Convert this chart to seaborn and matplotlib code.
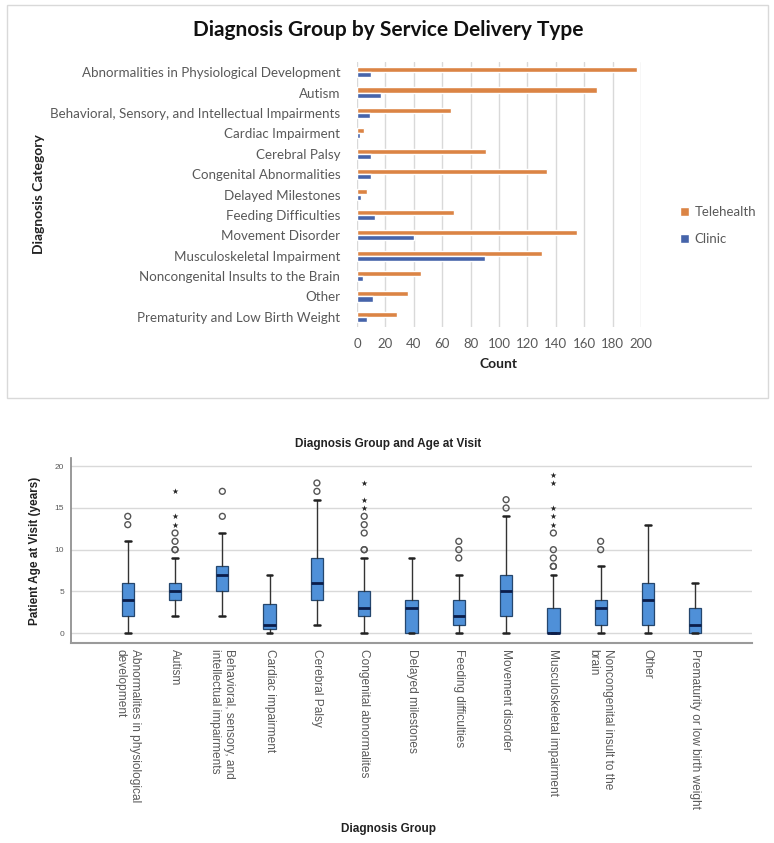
import matplotlib
matplotlib.use("Agg")
import matplotlib.pyplot as plt
from matplotlib.patches import Rectangle
import seaborn as sns
import pandas as pd

# ---- top chart data: counts by diagnosis category and service delivery type
categories = [
    "Abnormalities in Physiological Development",
    "Autism",
    "Behavioral, Sensory, and Intellectual Impairments",
    "Cardiac Impairment",
    "Cerebral Palsy",
    "Congenital Abnormalities",
    "Delayed Milestones",
    "Feeding Difficulties",
    "Movement Disorder",
    "Musculoskeletal Impairment",
    "Noncongenital Insults to the Brain",
    "Other",
    "Prematurity and Low Birth Weight",
]
telehealth = [197, 169, 66, 5, 91, 134, 7, 68, 155, 130, 45, 36, 28]
clinic = [10, 17, 9, 2, 10, 10, 3, 13, 40, 90, 4, 11, 7]
count_ticks = [0, 20, 40, 60, 80, 100, 120, 140, 160, 180, 200]

# ---- bottom chart data: age at visit box summaries
group_labels = [
    "Abnormalites in physiological\ndevelopment",
    "Autism",
    "Behavioral, sensory, and\nintellectual impairments",
    "Cardiac impairment",
    "Cerebral Palsy",
    "Congenital abnormalites",
    "Delayed milestones",
    "Feeding difficulties",
    "Movement disorder",
    "Musculoskeletal impairment",
    "Noncongenital insult to the\nbrain",
    "Other",
    "Prematurity or low birth weight",
]
q1 = [2, 4, 5, 0.5, 4, 2, 0, 1, 2, 0, 1, 1, 0]
median = [4, 5, 7, 1, 6, 3, 3, 2, 5, 0, 3, 4, 1]
q3 = [6, 6, 8, 3.5, 9, 5, 4, 4, 7, 3, 4, 6, 3]
whisker_low = [0, 2, 2, 0, 1, 0, 0, 0, 0, 0, 0, 0, 0]
whisker_high = [11, 9, 12, 7, 16, 9, 9, 7, 14, 7, 8, 13, 6]
circle_outliers = [
    [13, 14], [10, 10, 11, 12], [14, 17], [], [17, 18],
    [10, 10, 12, 13, 14], [], [9, 10, 11], [15, 16],
    [8, 8, 9, 10, 12], [10, 11], [], [],
]
star_outliers = [
    [], [13, 14, 17], [], [], [], [15, 16, 18], [], [], [],
    [13, 14, 15, 18, 19], [], [], [],
]
age_ticks = [0, 5, 10, 15, 20]

orange = "#DB8445"
blue = "#4664AA"
grey_text = "#595959"
arial = ["Liberation Sans", "DejaVu Sans"]

sns.set_theme(style="white")
plt.rcParams["font.family"] = ["Lato", "DejaVu Sans"]

fig = plt.figure(figsize=(7.74, 8.43), dpi=100)
W, H = 774, 843


def box(l, t, r, b):
    return [l / W, 1 - b / H, (r - l) / W, (b - t) / H]


# panel frame for the top chart
fig.add_artist(Rectangle((7 / W, 1 - 398 / H), (768 - 7) / W, (398 - 5) / H,
                         transform=fig.transFigure, fill=False,
                         ec="#D9D9D9", lw=1))

# ================= top: grouped horizontal bars =================
df = pd.DataFrame({
    "Diagnosis": categories * 2,
    "Count": telehealth + clinic,
    "Service": ["Telehealth"] * len(categories) + ["Clinic"] * len(categories),
})

ax1 = fig.add_axes(box(357, 62, 641, 327))
sns.barplot(data=df, y="Diagnosis", x="Count", hue="Service",
            hue_order=["Telehealth", "Clinic"], palette=[orange, blue],
            orient="h", width=0.5, saturation=1, ax=ax1)
ax1.set_xlim(0, 200)
ax1.set_xticks(count_ticks)
ax1.grid(axis="x", color="#D9D9D9", lw=1)
ax1.set_axisbelow(True)
for s in ax1.spines.values():
    s.set_visible(False)
ax1.tick_params(axis="y", length=0, pad=12, labelsize=9.6, labelcolor=grey_text)
ax1.tick_params(axis="x", length=0, pad=8, labelsize=9.5, labelcolor=grey_text)
ax1.set_ylabel("Diagnosis Category", fontsize=10, weight="bold", color="#222222")
ax1.yaxis.set_label_coords((45 - 357) / 284, 0.5)
ax1.set_xlabel("Count", fontsize=10, weight="bold", color="#222222", labelpad=6)

handles, labels = ax1.get_legend_handles_labels()
ax1.legend(handles, labels, loc="upper left", bbox_to_anchor=(1.095, 0.5),
           frameon=False, handlelength=0.7, handleheight=0.7,
           handletextpad=0.4, labelspacing=1.1, fontsize=9.5,
           labelcolor=grey_text)

fig.text(388 / W, 1 - 30 / H, "Diagnosis Group by Service Delivery Type",
         ha="center", va="center", fontsize=15, weight="bold", color="#111111")

# ================= bottom: box plot of age =================
ax2 = fig.add_axes(box(71, 458, 752, 643))
stats = []
for i in range(len(group_labels)):
    stats.append({"med": median[i], "q1": q1[i], "q3": q3[i],
                  "whislo": whisker_low[i], "whishi": whisker_high[i],
                  "fliers": []})
ax2.bxp(stats, positions=range(len(group_labels)), widths=0.26,
        capwidths=0.12, patch_artist=True, showfliers=False,
        boxprops=dict(facecolor="#4F90D8", edgecolor="#25476E", lw=0.9),
        medianprops=dict(color="#0B1D4A", lw=2),
        whiskerprops=dict(color="#333333", lw=1),
        capprops=dict(color="#222222", lw=1.8))

for i, vals in enumerate(circle_outliers):
    if vals:
        ax2.scatter([i] * len(vals), vals, marker="o", s=18,
                    facecolors="none", edgecolors="#555555", lw=1, zorder=3)
for i, vals in enumerate(star_outliers):
    if vals:
        ax2.scatter([i] * len(vals), vals, marker="*", s=20,
                    color="#222222", lw=0, zorder=3)

ax2.set_xlim(-1.2, 13.2)
ax2.set_ylim(-1.2, 21)
ax2.set_yticks(age_ticks)
ax2.grid(axis="y", color="#D9D9D9", lw=1)
ax2.set_axisbelow(True)
ax2.spines["top"].set_visible(False)
ax2.spines["right"].set_visible(False)
ax2.spines["left"].set_color("#8C8C8C")
ax2.spines["bottom"].set_color("#9A9A9A")
ax2.spines["bottom"].set_linewidth(1.5)
ax2.set_xticks(range(len(group_labels)))
ax2.set_xticklabels(group_labels, rotation=270, ha="center", va="top",
                    ma="left", fontsize=8.6, color=grey_text, family=arial)
for t in ax2.get_yticklabels():
    t.set_family(arial)
ax2.tick_params(axis="x", length=0, pad=4)
ax2.tick_params(axis="y", length=0, pad=5, labelsize=6, labelcolor=grey_text)
ax2.set_ylabel("Patient Age at Visit (years)", fontsize=8.5, weight="bold",
               color="#222222", family=arial)
ax2.yaxis.set_label_coords((41 - 71) / 681, 0.5)

fig.text(388 / W, 1 - 444 / H, "Diagnosis Group and Age at Visit",
         ha="center", va="center", fontsize=8.5, weight="bold", color="#222222",
         family=arial)
fig.text(388 / W, 1 - 829 / H, "Diagnosis Group",
         ha="center", va="center", fontsize=8.5, weight="bold", color="#222222",
         family=arial)

fig.savefig("out.png", dpi=100)
